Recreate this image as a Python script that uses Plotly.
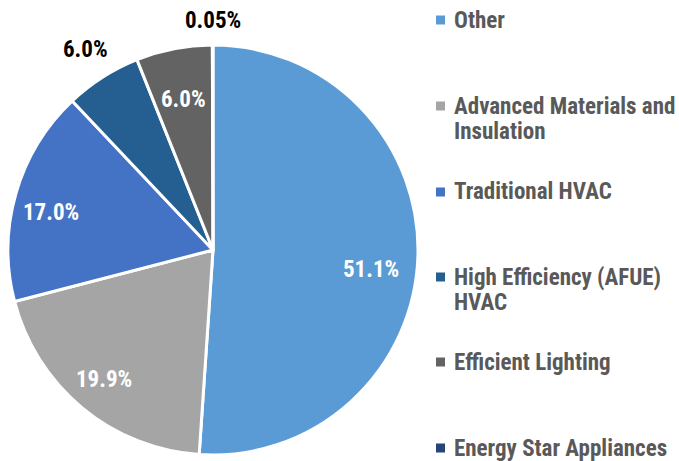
import math
import plotly.graph_objects as go

labels = ["Other", "Advanced Materials and<br>Insulation", "Traditional HVAC",
          "High Efficiency (AFUE)<br>HVAC", "Efficient Lighting", "Energy Star Appliances"]
values = [51.1, 19.9, 17.0, 6.0, 6.0, 0.05]
text_labels = ["51.1%", "19.9%", "17.0%", "6.0%", "6.0%", "0.05%"]
colors = ["#5B9BD5", "#A5A5A5", "#4472C4", "#255E91", "#636363", "#264478"]

# label placement style: radial distance as fraction of radius, small pixel nudges, text colour
label_radius = [0.77, 0.79, 0.82, 1.16, 0.75, 1.12]
label_xshift = [0, -6, 0, 0, 0, 0]
label_yshift = [-14, -5, -9, 0, 0, 0]
label_color = ["white", "white", "white", "black", "white", "black"]

W, H = 679, 461
FONT = "Liberation Sans Narrow, Arial Narrow, Roboto Condensed, DejaVu Sans Condensed, sans-serif"
CX, CY, R = 213, 250, 205  # pie centre / radius in pixels

fig = go.Figure(go.Pie(
    labels=labels, values=values, text=text_labels,
    textinfo="none",
    marker=dict(colors=colors, line=dict(color="white", width=3)),
    sort=False, direction="clockwise", rotation=0,
    domain=dict(x=[(CX - R) / W, (CX + R) / W], y=[(H - CY - R) / H, (H - CY + R) / H]),
    showlegend=False, hoverinfo="label+percent",
))

ann = []
total = sum(values)
cum = 0.0
for v, t, rf, xs, ys, col in zip(values, text_labels, label_radius,
                                  label_xshift, label_yshift, label_color):
    mid = (cum + v / 2) / total * 2 * math.pi
    cum += v
    px = CX + rf * R * math.sin(mid)
    py = CY - rf * R * math.cos(mid)
    ann.append(dict(x=px / W, y=1 - py / H, xref="paper", yref="paper",
                    text="<b>" + t + "</b>", showarrow=False,
                    xshift=xs, yshift=ys,
                    font=dict(size=23, color=col, family=FONT),
                    xanchor="center", yanchor="middle"))

# legend drawn on the right
shapes = []
first_y = [20, 106, 192, 277, 362, 448]
for lab, col, yy in zip(labels, colors, first_y):
    for k, line in enumerate(lab.split("<br>")):
        ann.append(dict(x=452 / W, y=1 - (yy + 25 * k) / H, xref="paper", yref="paper",
                        text="<b>" + line + "</b>", showarrow=False,
                        font=dict(size=23, color="#595959", family=FONT),
                        xanchor="left", yanchor="middle"))
    shapes.append(dict(type="rect", xref="paper", yref="paper",
                       x0=436 / W, x1=445 / W, y0=1 - (yy + 4.5) / H, y1=1 - (yy - 4.5) / H,
                       fillcolor=col, line=dict(width=0)))

fig.update_layout(
    width=W, height=H, margin=dict(l=0, r=0, t=0, b=0),
    paper_bgcolor="white", plot_bgcolor="white",
    font=dict(family=FONT),
    annotations=ann, shapes=shapes,
)
fig.write_html("out.html", config={"displayModeBar": False},
               post_script="document.body.style.margin='0';")
